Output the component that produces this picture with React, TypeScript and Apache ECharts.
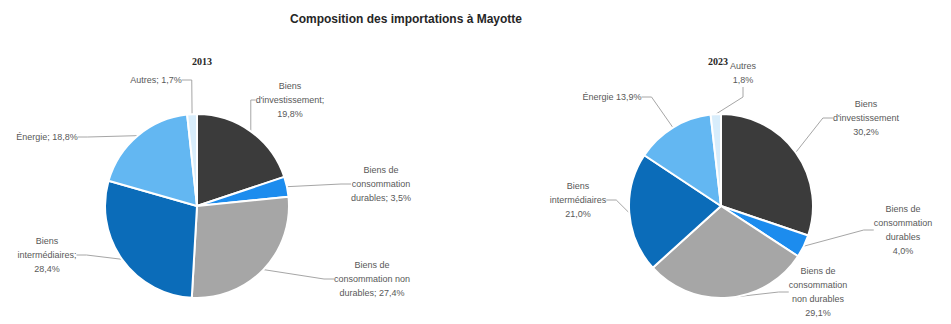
import React, { useEffect, useRef } from "react";
import * as echarts from "echarts";

const categories = [
  "Biens d'investissement",
  "Biens de consommation durables",
  "Biens de consommation non durables",
  "Biens intermédiaires",
  "Énergie",
  "Autres",
];
const values2013 = [19.8, 3.5, 27.4, 28.4, 18.8, 1.7];
const values2023 = [30.2, 4.0, 29.1, 21.0, 13.9, 1.8];
const labels2013 = [
  "Biens\nd'investissement;\n{v}",
  "Biens de\nconsommation\ndurables; {v}",
  "Biens de\nconsommation non\ndurables; {v}",
  "Biens\nintermédiaires;\n{v}",
  "Énergie; {v}",
  "Autres; {v}",
];
const labels2023 = [
  "Biens\nd'investissement\n{v}",
  "Biens de\nconsommation\ndurables\n{v}",
  "Biens de\nconsommation\nnon durables\n{v}",
  "Biens\nintermédiaires\n{v}",
  "Énergie {v}",
  "Autres\n{v}",
];
const colors = ["#3b3b3b", "#1c8cee", "#a6a6a6", "#0b6cb9", "#63b7f2", "#d8edfb"];
const pos2013 = [
  [290, 100],
  [381, 184],
  [372, 279],
  [47, 255],
  [47, 137],
  [156, 80],
];
const pos2023 = [
  [866, 118],
  [903, 230],
  [818, 292],
  [578, 200],
  [612, 97],
  [743, 73],
];

const fmt = (v: number) => v.toFixed(1).replace(".", ",") + "%";

function makeSeries(values: number[], labels: string[], pos: number[][], center: string[]) {
  return {
    type: "pie",
    radius: 92,
    center,
    startAngle: 90,
    clockwise: true,
    avoidLabelOverlap: false,
    data: values.map((v, i) => ({
      name: categories[i],
      value: v,
      itemStyle: { color: colors[i] },
      label: { formatter: labels[i].replace("{v}", fmt(v)) },
    })),
    itemStyle: { borderColor: "#ffffff", borderWidth: 2 },
    label: {
      show: true,
      position: "outside",
      color: "#595959",
      fontSize: 9,
      lineHeight: 14,
      fontFamily: "Liberation Sans, Arial, sans-serif",
      align: "center",
    },
    labelLine: {
      show: true,
      length: 10,
      length2: 10,
      lineStyle: { color: "#a6a6a6", width: 1 },
    },
    labelLayout: (params: any) => {
      const p = pos[params.dataIndex];
      return { x: p[0], y: p[1], align: "center", verticalAlign: "middle", moveOverlap: null };
    },
  };
}

export default function App() {
  const ref = useRef<HTMLDivElement>(null);
  useEffect(() => {
    if (!ref.current) return;
    const chart = echarts.init(ref.current, undefined, { renderer: "svg" });
    chart.setOption({
      animation: false,
      backgroundColor: "#ffffff",
      title: [
        {
          text: "Composition des importations à Mayotte",
          left: 401,
          top: 8,
          textAlign: "center",
          textStyle: { fontSize: 12, fontWeight: "bold", color: "#262626", fontFamily: "Liberation Sans, Arial, sans-serif" },
        },
        {
          text: "2013",
          left: 197,
          top: 51,
          textAlign: "center",
          textStyle: { fontSize: 10, fontWeight: "bold", color: "#262626", fontFamily: "Liberation Serif, serif" },
        },
        {
          text: "2023",
          left: 713,
          top: 51,
          textAlign: "center",
          textStyle: { fontSize: 10, fontWeight: "bold", color: "#262626", fontFamily: "Liberation Serif, serif" },
        },
      ],
      series: [
        makeSeries(values2013, labels2013, pos2013, ["197", "206"]),
        makeSeries(values2023, labels2023, pos2023, ["721", "206"]),
      ],
    });
    return () => chart.dispose();
  }, []);
  return (
    <div
      ref={ref}
      style={{ position: "fixed", left: 0, top: 0, width: 951, height: 324 }}
    />
  );
}
